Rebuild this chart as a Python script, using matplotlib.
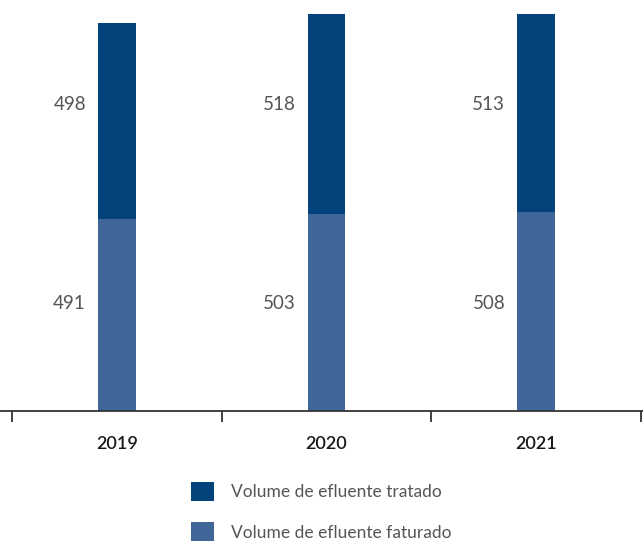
import matplotlib
matplotlib.use("Agg")
import matplotlib.pyplot as plt
from matplotlib.patches import Patch
from matplotlib.transforms import blended_transform_factory, offset_copy

plt.rcParams['font.family'] = ['Lato', 'DejaVu Sans']

# dados
anos = ['2019', '2020', '2021']
faturado = [491, 503, 508]   # parte de baixo
tratado = [498, 518, 513]    # parte de cima

cor_tratado = '#03427a'
cor_faturado = '#3e6699'
cor_texto = '#555555'

fig = plt.figure(figsize=(6.43, 5.44), dpi=100)
ax = fig.add_axes([0, 133 / 544, 1, 397 / 544])

x = list(range(len(anos)))
ax.bar(x, faturado, width=0.18, color=cor_faturado, zorder=2)
ax.bar(x, tratado, width=0.18, bottom=faturado, color=cor_tratado, zorder=2)

ax.set_xlim(-0.557, 2.51)
ax.set_ylim(0, 1013)

# rótulos dos valores, à esquerda das barras
trans = blended_transform_factory(ax.transData, ax.transAxes)
trans = offset_copy(trans, fig=fig, x=-12, y=0, units='dots')
for i in x:
    ax.text(i - 0.09, 0.27, str(faturado[i]), transform=trans, ha='right', va='center',
            fontsize=13.5, color=cor_texto)
    ax.text(i - 0.09, 0.773, str(tratado[i]), transform=trans, ha='right', va='center',
            fontsize=13.5, color=cor_texto)

# eixo
for s in ['left', 'right', 'top']:
    ax.spines[s].set_visible(False)
ax.spines['bottom'].set_color('#333333')
ax.spines['bottom'].set_linewidth(1.3)
ax.set_yticks([])
ax.set_xticks(x)
ax.set_xticklabels(anos, fontsize=13, color='#1a1a1a', fontweight='semibold')
ax.tick_params(axis='x', which='major', length=0, pad=18)
ax.set_xticks([-0.5, 0.5, 1.5, 2.5], minor=True)
ax.tick_params(axis='x', which='minor', length=8, width=1.3, color='#333333', direction='out')

# legenda
handles = [Patch(facecolor=cor_tratado, label='Volume de efluente tratado'),
           Patch(facecolor=cor_faturado, label='Volume de efluente faturado')]
leg = fig.legend(handles=handles, loc='upper left', bbox_to_anchor=(191 / 643, 1 - 482 / 544),
                 frameon=False, fontsize=12.5, handlelength=1.32, handleheight=1.32,
                 handletextpad=0.98, labelspacing=1.22, borderpad=0, borderaxespad=0)
for t in leg.get_texts():
    t.set_color(cor_texto)

fig.savefig('out.png', dpi=100)
